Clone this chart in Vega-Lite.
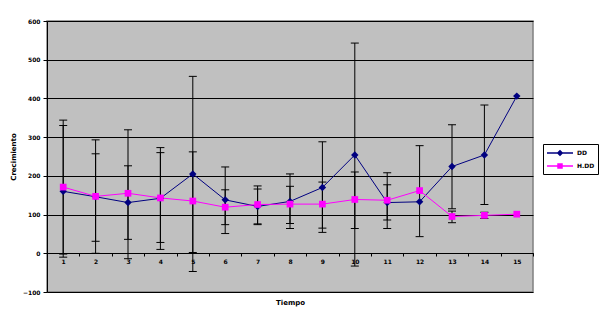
{
  "$schema": "https://vega.github.io/schema/vega-lite/v6.json",
  "width": 486,
  "height": 271,
  "autosize": "none",
  "padding": {"left": 47, "top": 21, "right": 69, "bottom": 35},
  "background": "white",
  "config": {
    "view": {"stroke": "#808080", "strokeWidth": 1.5, "fill": "#C0C0C0"},
    "font": "DejaVu Sans",
    "axis": {"labelFont": "DejaVu Sans", "labelFontWeight": "bold", "labelFontSize": 6, "labelColor": "black", "titleFont": "DejaVu Sans", "titleFontWeight": "bold", "titleFontSize": 7, "titleColor": "black", "domainColor": "black", "tickColor": "black", "labelOverlap": false},
    "legend": {"labelFont": "DejaVu Sans", "labelFontWeight": "bold", "labelFontSize": 6, "labelColor": "black"}
  },
  "data": {
    "values": [
      {"t": "1", "series": "DD", "value": 160, "lo": -10, "hi": 330},
      {"t": "2", "series": "DD", "value": 146, "lo": 31, "hi": 257},
      {"t": "3", "series": "DD", "value": 131, "lo": 36, "hi": 226},
      {"t": "4", "series": "DD", "value": 142, "lo": 10, "hi": 273},
      {"t": "5", "series": "DD", "value": 205, "lo": -47, "hi": 457},
      {"t": "6", "series": "DD", "value": 138, "lo": 51, "hi": 223},
      {"t": "7", "series": "DD", "value": 121, "lo": 74, "hi": 166},
      {"t": "8", "series": "DD", "value": 134, "lo": 64, "hi": 205},
      {"t": "9", "series": "DD", "value": 170, "lo": 54, "hi": 288},
      {"t": "10", "series": "DD", "value": 254, "lo": -33, "hi": 543},
      {"t": "11", "series": "DD", "value": 131, "lo": 86, "hi": 177},
      {"t": "12", "series": "DD", "value": 133, "lo": null, "hi": null},
      {"t": "13", "series": "DD", "value": 224, "lo": 115, "hi": 332},
      {"t": "14", "series": "DD", "value": 254, "lo": 126, "hi": 383},
      {"t": "15", "series": "DD", "value": 406, "lo": null, "hi": null},
      {"t": "1", "series": "H.DD", "value": 171, "lo": -2, "hi": 344},
      {"t": "2", "series": "H.DD", "value": 147, "lo": 0, "hi": 293},
      {"t": "3", "series": "H.DD", "value": 155, "lo": -14, "hi": 319},
      {"t": "4", "series": "H.DD", "value": 143, "lo": 28, "hi": 260},
      {"t": "5", "series": "H.DD", "value": 135, "lo": 2, "hi": 262},
      {"t": "6", "series": "H.DD", "value": 119, "lo": 74, "hi": 164},
      {"t": "7", "series": "H.DD", "value": 126, "lo": 76, "hi": 174},
      {"t": "8", "series": "H.DD", "value": 127, "lo": 77, "hi": 173},
      {"t": "9", "series": "H.DD", "value": 127, "lo": 65, "hi": 184},
      {"t": "10", "series": "H.DD", "value": 139, "lo": 64, "hi": 210},
      {"t": "11", "series": "H.DD", "value": 137, "lo": 64, "hi": 208},
      {"t": "12", "series": "H.DD", "value": 162, "lo": 43, "hi": 278},
      {"t": "13", "series": "H.DD", "value": 95, "lo": 79, "hi": 109},
      {"t": "14", "series": "H.DD", "value": 98, "lo": 90, "hi": 106},
      {"t": "15", "series": "H.DD", "value": 101, "lo": null, "hi": null}
    ]
  },
  "encoding": {
    "x": {
      "field": "t", "type": "ordinal",
      "scale": {"type": "band", "paddingInner": 0, "paddingOuter": 0, "domain": ["1","2","3","4","5","6","7","8","9","10","11","12","13","14","15"]},
      "axis": {"title": "Tiempo", "labelAngle": 0, "offset": -39, "tickBand": "extent", "tickSize": 3, "labelPadding": 2, "titlePadding": 34, "domainColor": "black"}
    },
    "y": {"type": "quantitative",
      "scale": {"domain": [-100, 600], "nice": false, "zero": false},
      "axis": {"title": "Crecimiento", "tickCount": 7, "tickSize": 4, "labelPadding": 3, "titlePadding": 6, "grid": true, "gridColor": "black", "gridOpacity": 1, "gridWidth": 1}}
  },
  "layer": [
    {
      "transform": [{"filter": "datum.lo != null"}],
      "mark": {"type": "rule", "color": "black", "strokeWidth": 1},
      "encoding": {
        "y": {"field": "lo"},
        "y2": {"field": "hi"}
      }
    },
    {
      "transform": [{"filter": "datum.lo != null"}],
      "mark": {"type": "tick", "color": "black", "size": 8, "thickness": 1, "opacity": 1},
      "encoding": {"y": {"field": "lo"}}
    },
    {
      "transform": [{"filter": "datum.hi != null"}],
      "mark": {"type": "tick", "color": "black", "size": 8, "thickness": 1, "opacity": 1},
      "encoding": {"y": {"field": "hi"}}
    },
    {
      "mark": {"type": "line", "strokeWidth": 1},
      "encoding": {
        "y": {"field": "value"},
        "color": {"field": "series", "type": "nominal", "title": null, "scale": {"domain": ["DD", "H.DD"], "range": ["#000080", "#FF00FF"]},
          "legend": {"orient": "none", "legendX": 496, "legendY": 123, "strokeColor": "black", "fillColor": "white", "padding": 3, "rowPadding": 1,
            "symbolSize": 100, "symbolStrokeWidth": 1.5, "labelOffset": 19,
            "encode": {"symbols": {"update": {
              "fill": {"scale": "color", "field": "value"},
              "shape": {"signal": "datum.value == 'DD' ? 'M-1,0H4.2M1.6,-0.45L2.05,0L1.6,0.45L1.15,0Z' : 'M-1,0H4.2M1.2,-0.4H2.0V0.4H1.2Z'"}
            }}}}}
      }
    },
    {
      "transform": [{"filter": "datum.series == 'DD'"}],
      "mark": {"type": "point", "filled": true, "shape": "diamond", "size": 55, "color": "#000080", "opacity": 1},
      "encoding": {"y": {"field": "value"}}
    },
    {
      "transform": [{"filter": "datum.series == 'H.DD'"}],
      "mark": {"type": "point", "filled": true, "shape": "square", "size": 45, "color": "#FF00FF", "opacity": 1},
      "encoding": {"y": {"field": "value"}}
    }
  ]
}
